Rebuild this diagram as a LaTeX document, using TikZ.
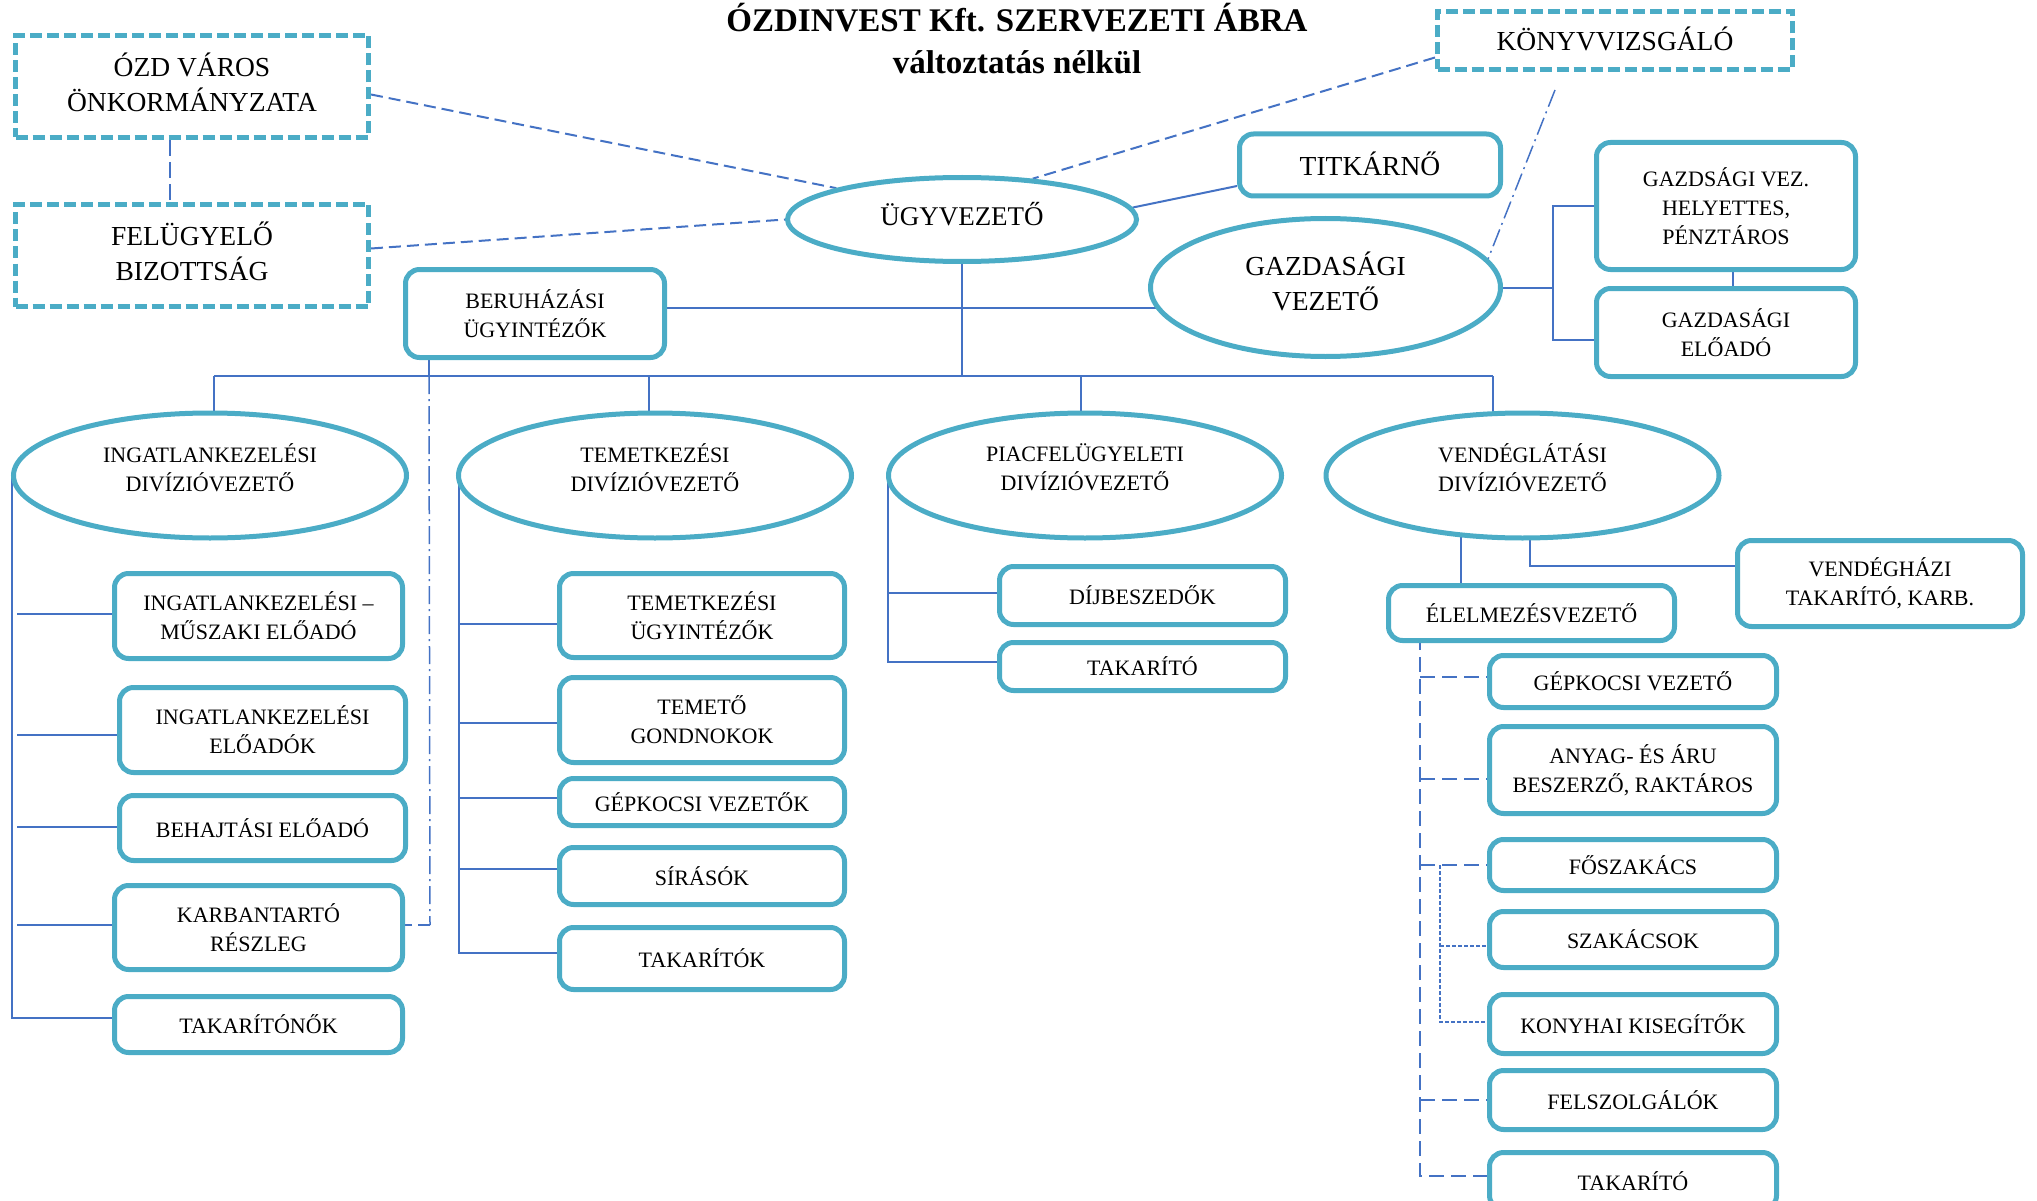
\documentclass[tikz,border=0pt]{standalone}
\usepackage{fontspec}
\setmainfont{Liberation Serif}
\usetikzlibrary{shapes.geometric,calc}
\definecolor{boxc}{HTML}{4BACC6}
\definecolor{linc}{HTML}{4472C4}
\pgfdeclarelayer{bg}
\pgfsetlayers{bg,main}
\begin{document}
\begin{tikzpicture}[x=1pt,y=-1pt,
  fsS/.style={font=\fontsize{22}{29}\selectfont},
  fsB/.style={font=\fontsize{27.5}{35}\selectfont},
  sz/.style 2 args={minimum width=#1pt, minimum height=#2pt},
  rbox/.style={draw=boxc, line width=5pt, rounded corners=14pt, fill=white, align=center, inner sep=0pt, fsS},
  dbox/.style={draw=boxc, line width=5pt, dash pattern=on 12pt off 5pt, fill=white, align=center, inner sep=0pt, fsB, text depth=8pt},
  ell/.style={ellipse, draw=boxc, line width=5pt, fill=white, align=center, inner sep=0pt},
  dlab/.style={align=center, fsS, yshift=8pt},
  conn/.style={draw=linc, line width=2pt},
  dconn/.style={draw=linc, line width=2pt, dash pattern=on 12pt off 6pt},
  ldash/.style={draw=linc, line width=1.5pt, dash pattern=on 16pt off 6pt},
  ddot/.style={draw=linc, line width=1.5pt, dash pattern=on 18pt off 5pt on 2pt off 5pt},
  edash/.style={draw=linc, line width=2pt, dash pattern=on 15pt off 7pt},
  edot/.style={draw=linc, line width=1.5pt, dash pattern=on 4pt off 2pt},
  ttl/.style={font=\bfseries\fontsize{33}{40}\selectfont, anchor=base}
]
\useasboundingbox (0,0) rectangle (2037,1201);

% title
\node[ttl] (t1) at (1017,32) {ÓZDINVEST Kft. SZERVEZETI ÁBRA};
\node[ttl] (t2) at (1017,74) {változtatás nélkül};

% top level
\node[dbox, sz={353}{102}] (ozd) at (192,86.5) {ÓZD VÁROS\\ÖNKORMÁNYZATA};
\node[dbox, sz={353}{102}] (fb) at (192,255.5) {FELÜGYELŐ\\BIZOTTSÁG};
\node[dbox, sz={355}{58}, text depth=4pt] (konyv) at (1615,40.5) {KÖNYVVIZSGÁLÓ};
\node[ell, sz={349}{84}, font=\fontsize{27}{35}\selectfont, text depth=12pt] (ugy) at (962,219.5) {ÜGYVEZETŐ};
\node[rbox, sz={261}{62}, fsB, text depth=2pt] (titk) at (1370,165) {TITKÁRNŐ};
\node[ell, sz={350}{138}, fsB, text depth=12pt] (gazd) at (1325.5,287.5) {GAZDASÁGI\\VEZETŐ};
\node[rbox, sz={259}{88}] (beruh) at (535,313.5) {BERUHÁZÁSI\\ÜGYINTÉZŐK};
\node[rbox, sz={259}{127}] (gvh) at (1726,206) {GAZDSÁGI VEZ.\\HELYETTES,\\PÉNZTÁROS};
\node[rbox, sz={259}{88}] (gea) at (1726,332.5) {GAZDASÁGI\\ELŐADÓ};

% divisions
\node[ell, sz={393}{125}, label={[dlab]center:INGATLANKEZELÉSI\\DIVÍZIÓVEZETŐ}] (ing) at (210,475.5) {};
\node[ell, sz={393}{125}, label={[dlab]center:TEMETKEZÉSI\\DIVÍZIÓVEZETŐ}] (tem) at (655,475.5) {};
\node[ell, sz={393}{125}, label={[dlab]center:PIACFELÜGYELETI\\DIVÍZIÓVEZETŐ}] (piac) at (1085,475.5) {};
\node[ell, sz={393}{125}, label={[dlab]center:VENDÉGLÁTÁSI\\DIVÍZIÓVEZETŐ}] (vend) at (1522.5,475.5) {};

% ingatlan column
\node[rbox, sz={288}{85}] (im) at (258.5,616) {INGATLANKEZELÉSI –\\MŰSZAKI ELŐADÓ};
\node[rbox, sz={286}{85}] (ie) at (262.5,730) {INGATLANKEZELÉSI\\ELŐADÓK};
\node[rbox, sz={286}{65}] (beh) at (262.5,828) {BEHAJTÁSI ELŐADÓ};
\node[rbox, sz={288}{84}] (karb) at (258.5,927.5) {KARBANTARTÓ\\RÉSZLEG};
\node[rbox, sz={288}{56}] (tak1) at (258.5,1024.5) {TAKARÍTÓNŐK};

% temetkezes column
\node[rbox, sz={285}{84}] (tu) at (702,615.5) {TEMETKEZÉSI\\ÜGYINTÉZŐK};
\node[rbox, sz={285}{85}] (tg) at (702,720) {TEMETŐ\\GONDNOKOK};
\node[rbox, sz={285}{47}] (gv) at (702,802) {GÉPKOCSI VEZETŐK};
\node[rbox, sz={285}{57}] (sir) at (702,876) {SÍRÁSÓK};
\node[rbox, sz={285}{62}] (taks) at (702,958.5) {TAKARÍTÓK};

% piac column
\node[rbox, sz={286}{58}] (dij) at (1142.5,595.5) {DÍJBESZEDŐK};
\node[rbox, sz={286}{48}] (tak2) at (1142.5,666.5) {TAKARÍTÓ};

% vendeglatas
\node[rbox, sz={285}{86}] (vendh) at (1880,583.5) {VENDÉGHÁZI\\TAKARÍTÓ, KARB.};
\node[rbox, sz={286}{55}] (elv) at (1531.5,613) {ÉLELMEZÉSVEZETŐ};
\node[rbox, sz={287}{52}] (gk) at (1633,681.5) {GÉPKOCSI VEZETŐ};
\node[rbox, sz={287}{87}] (anyag) at (1633,770) {ANYAG- ÉS ÁRU\\BESZERZŐ, RAKTÁROS};
\node[rbox, sz={287}{51}] (fo) at (1633,865) {FŐSZAKÁCS};
\node[rbox, sz={287}{56}] (szak) at (1633,939.5) {SZAKÁCSOK};
\node[rbox, sz={287}{59}] (kony) at (1633,1024) {KONYHAI KISEGÍTŐK};
\node[rbox, sz={287}{59}] (felsz) at (1633,1100) {FELSZOLGÁLÓK};
\node[rbox, sz={287}{57}] (tak3) at (1633,1181) {TAKARÍTÓ};

\begin{pgfonlayer}{bg}
% coordinates
\coordinate (busL) at (214,376);
\coordinate (busR) at (1493,376);
\coordinate (dT) at (649,376);
\coordinate (dP) at (1081,376);
\coordinate (bv) at (429,376);
\coordinate (bvEnd) at (430,925);
\coordinate (gx) at (1553,0);
\coordinate (iv) at (11.5,0);
\coordinate (ih) at (17,0);
\coordinate (tv) at (459,0);
\coordinate (pv) at (888,0);
\coordinate (vx1) at (1461,0);
\coordinate (vx2) at (1530,566);
\coordinate (ex) at (1420,0);
\coordinate (ex2) at (1440,0);

% top connectors
\draw[dconn] ([yshift=-8pt]ozd.east) -- (ugy.166);
\draw[dconn] ([yshift=7pt]fb.east) -- (ugy.west);
\draw[dconn] ([yshift=-17pt]konyv.west) -- (ugy.30);
\draw[ddot] ([xshift=-60pt,yshift=-18pt]konyv.south) -- (gazd.10);
\draw[ldash] ([xshift=-22pt]ozd.south) -- ([xshift=-22pt]fb.north);
\draw[conn] (ugy.4) -- ([yshift=-21pt]titk.west);
\draw[conn] ([yshift=5.5pt]beruh.east) -- ([yshift=5.5pt,xshift=8pt]beruh.east -| gazd.west);
\draw[conn] (gazd.east) -- (gazd.east -| gx);
\draw[conn] (gvh.west) -- (gvh.west -| gx) -- ([yshift=-7pt]gea.west -| gx) -- ([yshift=-7pt]gea.west);
\draw[conn] ([xshift=7pt]gvh.south) -- ([xshift=7pt]gea.north);

% bus
\draw[conn] (ugy.south) -- (ugy.south |- busL);
\draw[conn] (busL) -- (busR);
\draw[conn] (busL) -- (busL |- ing.center);
\draw[conn] (dT) -- (dT |- tem.center);
\draw[conn] (dP) -- (dP |- piac.center);
\draw[conn] (busR) -- (busR |- vend.center);
\draw[conn] (beruh.south -| bv) -- (bv);
\draw[ddot] (bv) -- (bvEnd);
\draw[dconn] (bvEnd) -- (bvEnd -| karb.east);

% ingatlan
\draw[conn] (iv |- ing.center) -- ([yshift=6.5pt]iv |- tak1.west) -- ([yshift=6.5pt]tak1.west);
\foreach \b/\s in {im/2,ie/-5,beh/1,karb/2.5} \draw[conn] ([yshift=\s pt]ih |- \b.west) -- ([yshift=\s pt]\b.west);

% temetkezes
\draw[conn] (tv |- tem.center) -- ([yshift=5.5pt]tv |- taks.west) -- ([yshift=5.5pt]taks.west);
\foreach \b/\s in {tu/-8.5,tg/-3,gv/4,sir/7} \draw[conn] ([yshift=\s pt]tv |- \b.west) -- ([yshift=\s pt]\b.west);

% piac
\draw[conn] (pv |- piac.center) -- ([yshift=4.5pt]pv |- tak2.west) -- ([yshift=4.5pt]tak2.west);
\draw[conn] ([yshift=2.5pt]pv |- dij.west) -- ([yshift=2.5pt]dij.west);

% vendeglatas
\draw[conn] (vx1 |- vend.center) -- (vx1 |- elv.center);
\draw[conn] (vx2 |- vend.center) -- (vx2) -- (vx2 -| vendh.west);
\draw[edash] (ex |- elv.center) -- ([yshift=5pt]ex |- tak3.west) -- ([yshift=5pt]tak3.west);
\foreach \b/\s in {gk/4.5,anyag/-9,fo/0,felsz/0} \draw[edash] ([yshift=\s pt]ex |- \b.west) -- ([yshift=\s pt]\b.west);
\draw[edot] (ex2 |- fo.west) -- ([yshift=2pt]ex2 |- kony.west) -- ([yshift=2pt]kony.west);
\draw[edot] ([yshift=-6.5pt]ex2 |- szak.west) -- ([yshift=-6.5pt]szak.west);
\end{pgfonlayer}
\end{tikzpicture}
\end{document}
